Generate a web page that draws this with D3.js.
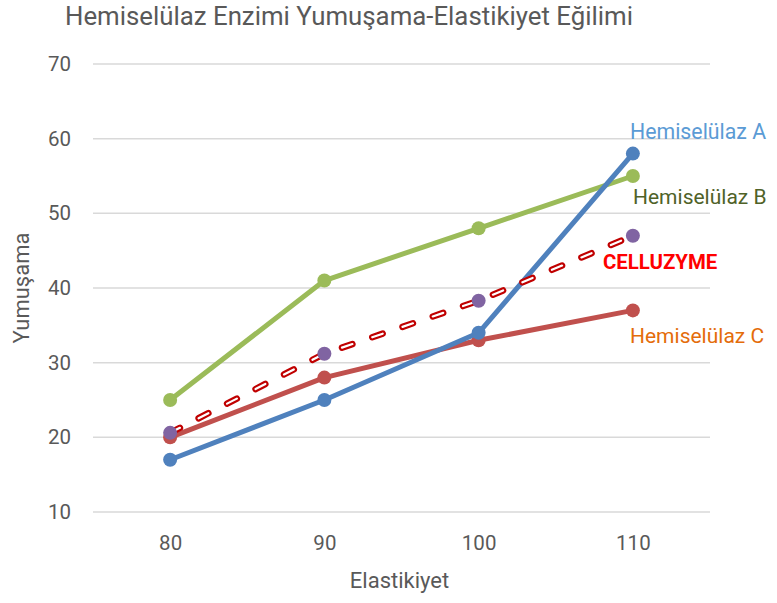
<!DOCTYPE html>
<html>
  <head>
    <meta charset="utf-8">
    <title>Hemiselülaz Enzimi</title>
    <script src="https://d3js.org/d3.v7.min.js"></script>
    <style>
      body { margin: 0; background: #fff; }
      text { font-family: Roboto, "Open Sans", sans-serif; }
    </style>
  </head>
  <body>
    <div id="chart"></div>
    <script>
      // data
      var categories = ["80", "90", "100", "110"];
      var hemiA = [17, 25, 34, 58];
      var hemiB = [25, 41, 48, 55];
      var hemiC = [20, 28, 33, 37];
      var celluzyme = [20.6, 31.2, 38.3, 47];
      var yTicks = [10, 20, 30, 40, 50, 60, 70];

      var width = 777, height = 603;
      var margin = { top: 64, right: 67, bottom: 91, left: 93 };

      var svg = d3.select("#chart").append("svg")
        .attr("width", width)
        .attr("height", height);

      var x = d3.scalePoint()
        .domain(categories)
        .range([margin.left, width - margin.right])
        .padding(0.5);
      var y = d3.scaleLinear()
        .domain([10, 70])
        .range([height - margin.bottom, margin.top]);

      // gridlines
      svg.append("g")
        .selectAll("line")
        .data(yTicks)
        .join("line")
        .attr("x1", margin.left)
        .attr("x2", width - margin.right)
        .attr("y1", d => y(d))
        .attr("y2", d => y(d))
        .attr("stroke", "#d9d9d9")
        .attr("stroke-width", 1.5);

      // y axis labels
      var yAxis = svg.append("g")
        .attr("transform", "translate(" + (margin.left - 16) + ",0)")
        .call(d3.axisLeft(y).tickValues(yTicks).tickSize(0).tickPadding(6));
      yAxis.select(".domain").remove();
      yAxis.selectAll("text")
        .attr("font-size", 20.5)
        .attr("fill", "#595959");

      // x axis labels
      var xAxis = svg.append("g")
        .attr("transform", "translate(0," + (height - margin.bottom + 19) + ")")
        .call(d3.axisBottom(x).tickSize(0).tickPadding(4));
      xAxis.select(".domain").remove();
      xAxis.selectAll("text")
        .attr("font-size", 20.5)
        .attr("fill", "#595959");

      // titles
      svg.append("text")
        .attr("x", 65)
        .attr("y", 25)
        .attr("font-size", 25.8)
        .attr("fill", "#595959")
        .text("Hemiselülaz Enzimi Yumuşama-Elastikiyet Eğilimi");
      svg.append("text")
        .attr("x", (x("90") + x("100")) / 2 - 2)
        .attr("y", 588)
        .attr("text-anchor", "middle")
        .attr("font-size", 22)
        .attr("fill", "#595959")
        .text("Elastikiyet");
      svg.append("text")
        .attr("transform", "translate(29,288) rotate(-90)")
        .attr("text-anchor", "middle")
        .attr("font-size", 22)
        .attr("fill", "#595959")
        .text("Yumuşama");

      var line = d3.line()
        .x((d, i) => x(categories[i]))
        .y(d => y(d));

      // solid series
      var series = [
        { values: hemiC, color: "#C0504D" },
        { values: hemiB, color: "#9BBB59" },
        { values: hemiA, color: "#4F81BD" }
      ];
      series.forEach(function(s) {
        svg.append("path")
          .datum(s.values)
          .attr("d", line)
          .attr("fill", "none")
          .attr("stroke", s.color)
          .attr("stroke-width", 5)
          .attr("stroke-linejoin", "round");
        svg.append("g")
          .selectAll("circle")
          .data(s.values)
          .join("circle")
          .attr("cx", (d, i) => x(categories[i]))
          .attr("cy", d => y(d))
          .attr("r", 7)
          .attr("fill", s.color);
      });

      // CELLUZYME: outlined dash (dark red outline, white core)
      svg.append("path")
        .datum(celluzyme)
        .attr("d", line)
        .attr("fill", "none")
        .attr("stroke", "#C00000")
        .attr("stroke-width", 6.5)
        .attr("stroke-linecap", "round")
        .attr("stroke-dasharray", "11,21");
      svg.append("path")
        .datum(celluzyme)
        .attr("d", line)
        .attr("fill", "none")
        .attr("stroke", "#fff")
        .attr("stroke-width", 2.2)
        .attr("stroke-linecap", "round")
        .attr("stroke-dasharray", "11,21");
      svg.append("g")
        .selectAll("circle")
        .data(celluzyme)
        .join("circle")
        .attr("cx", (d, i) => x(categories[i]))
        .attr("cy", d => y(d))
        .attr("r", 7)
        .attr("fill", "#8064A2");

      // series labels
      var labels = [
        { text: "Hemiselülaz A", x: 630, y: 139, color: "#5B9BD5", weight: "normal", size: 21.3 },
        { text: "Hemiselülaz B", x: 633, y: 204, color: "#4F6228", weight: "normal", size: 21 },
        { text: "CELLUZYME", x: 603, y: 269, color: "#FF0000", weight: "bold", size: 20.4 },
        { text: "Hemiselülaz C", x: 630, y: 343, color: "#E46C0A", weight: "normal", size: 21 }
      ];
      svg.append("g")
        .selectAll("text")
        .data(labels)
        .join("text")
        .attr("x", d => d.x)
        .attr("y", d => d.y)
        .attr("fill", d => d.color)
        .attr("font-weight", d => d.weight)
        .attr("font-size", d => d.size)
        .text(d => d.text);
    </script>
  </body>
</html>
